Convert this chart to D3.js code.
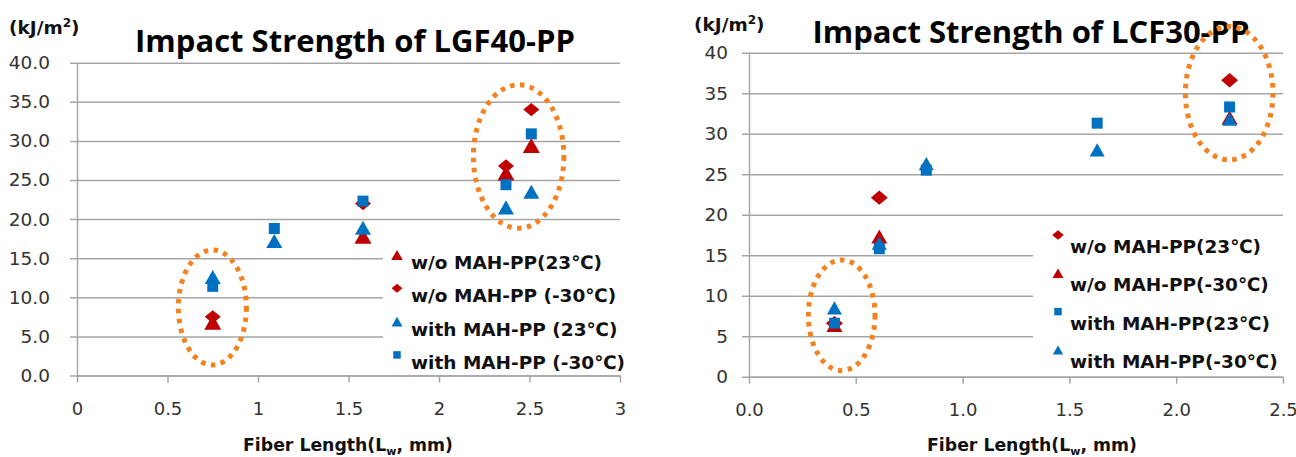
<!DOCTYPE html>
<html>
<head>
<meta charset="utf-8">
<script src="https://cdn.jsdelivr.net/npm/d3@7"></script>
<style>
    body { margin: 0; background: #fff; }
    svg { display: block; font-family: "DejaVu Sans", sans-serif; }
</style>
</head>
<body>
<svg id="chart" width="1296" height="457"></svg>
<script>
// ---- LGF40-PP (left) ----
var lgfXTicks = [0, 0.5, 1, 1.5, 2, 2.5, 3];
var lgfYTicks = [0, 5, 10, 15, 20, 25, 30, 35, 40];
var lgfNames = ["w/o MAH-PP(23\u2103)", "w/o MAH-PP (-30\u2103)", "with MAH-PP (23\u2103)", "with MAH-PP (-30\u2103)"];
var lgfWoX = [0.75, 1.58, 2.37, 2.51];
var lgfWo23 = [6.8, 17.8, 25.9, 29.4];
var lgfWoM30 = [7.5, 22.0, 26.8, 34.0];
var lgfWithX = [0.75, 1.09, 1.58, 2.37, 2.51];
var lgfWith23 = [12.6, 17.2, 18.9, 21.5, 23.5];
var lgfWithM30 = [11.4, 18.8, 22.3, 24.4, 30.9];
// highlight ellipses: [cx, cy, rx, ry] in data units
var lgfRings = [[0.748, 8.7, 0.188, 7.35], [2.44, 28.0, 0.25, 9.17]];

// ---- LCF30-PP (right) ----
var lcfXTicks = [0, 0.5, 1, 1.5, 2, 2.5];
var lcfYTicks = [0, 5, 10, 15, 20, 25, 30, 35, 40];
var lcfNames = ["w/o MAH-PP(23\u2103)", "w/o MAH-PP(-30\u2103)", "with MAH-PP(23\u2103)", "with MAH-PP(-30\u2103)"];
var lcfWoX = [0.40, 0.61, 2.25];
var lcfWo23 = [6.6, 22.1, 36.6];
var lcfWoM30 = [6.4, 17.3, 32.0];
var lcfWithX = [0.40, 0.61, 0.83, 1.63, 2.25];
var lcfWith23 = [6.6, 15.8, 25.5, 31.3, 33.3];
var lcfWithM30 = [8.5, 16.5, 26.3, 28.0, 31.8];
var lcfRings = [[0.434, 7.58, 0.156, 6.83], [2.248, 35.0, 0.205, 8.23]];

var RED = "#c00000", BLUE = "#0070c0", ORANGE = "#f5821f", GRID = "#a6a6a6";

// marker shapes, size = width in px
var triShape = { draw: function (c, s) { var h = s * 0.88; c.moveTo(0, -h / 2); c.lineTo(s / 2, h / 2); c.lineTo(-s / 2, h / 2); c.closePath(); } };
var diaShape = { draw: function (c, s) { var h = s * 0.42; c.moveTo(0, -h); c.lineTo(s / 2, 0); c.lineTo(0, h); c.lineTo(-s / 2, 0); c.closePath(); } };
var sqShape = { draw: function (c, s) { c.rect(-s / 2, -s / 2, s, s); } };

function zip(xs, ys) {
    return xs.map(function (d, i) { return [d, ys[i]]; });
}

function drawPanel(svg, p) {
    var x = d3.scaleLinear().domain([p.xTicks[0], p.xTicks[p.xTicks.length - 1]]).range([p.left, p.right]);
    var y = d3.scaleLinear().domain([0, 40]).range([p.bottom, p.top]);
    var g = svg.append("g");

    // y axis + gridlines
    var yAxis = g.append("g")
        .attr("transform", "translate(" + p.left + ",0)")
        .call(d3.axisLeft(y).tickValues(p.yTicks).tickSize(-(p.right - p.left)).tickSizeOuter(0)
            .tickPadding(p.yPad).tickFormat(d3.format(p.yFmt)));
    yAxis.select(".domain").style("stroke", GRID).style("stroke-width", 1.5);
    yAxis.selectAll(".tick line").attr("x1", -7).style("stroke", GRID).style("stroke-width", 1.5);
    yAxis.selectAll(".tick text").style("font-size", "18.5px").style("fill", "#333")
        .style("font-family", "'DejaVu Sans', sans-serif");

    // x axis
    var xAxis = g.append("g")
        .attr("transform", "translate(0," + p.bottom + ")")
        .call(d3.axisBottom(x).tickValues(p.xTicks).tickSize(7).tickSizeOuter(0)
            .tickPadding(20).tickFormat(d3.format(p.xFmt)));
    xAxis.select(".domain").style("stroke", GRID).style("stroke-width", 1.5);
    xAxis.selectAll(".tick line").style("stroke", GRID).style("stroke-width", 1.5);
    xAxis.selectAll(".tick text").style("font-size", "18px").style("fill", "#333")
        .style("font-family", "'DejaVu Sans', sans-serif");

    // legend box hides gridlines behind it
    g.append("rect")
        .attr("x", p.legend.x0).attr("y", p.legend.y0)
        .attr("width", p.right + 12 - p.legend.x0).attr("height", p.bottom - 4 - p.legend.y0)
        .attr("fill", "#fff");

    // markers
    p.series.forEach(function (s) {
        g.selectAll(null)
            .data(zip(s.x, s.y))
            .enter().append("path")
            .attr("transform", function (d) { return "translate(" + x(d[0]) + "," + y(d[1]) + ")"; })
            .attr("d", d3.symbol().type(s.shape).size(s.size))
            .attr("fill", s.color);
    });

    // legend entries
    var leg = g.selectAll(".leg")
        .data(p.series)
        .enter().append("g")
        .attr("transform", function (d, i) { return "translate(" + p.legend.mx + "," + (p.legend.y + i * p.legend.step) + ")"; });
    leg.append("path")
        .attr("d", function (d) { return d3.symbol().type(d.shape).size(d.size * 0.68)(); })
        .attr("fill", function (d) { return d.color; });
    leg.append("text")
        .attr("x", p.legend.tx).attr("y", p.legend.dy)
        .style("font-size", "18.5px").style("font-weight", "bold").style("fill", "#111")
        .text(function (d) { return d.name; });

    // titles
    g.append("text")
        .attr("x", p.titleX).attr("y", p.titleY)
        .attr("text-anchor", "middle")
        .style("font-family", "'Open Sans', sans-serif")
        .style("font-size", "31px").style("font-weight", "bold").style("fill", "#000")
        .text(p.title);
    var unit = g.append("text")
        .attr("x", p.unitX).attr("y", p.unitY)
        .style("font-size", "18.5px").style("font-weight", "bold").style("fill", "#111");
    unit.append("tspan").text("(kJ/m");
    unit.append("tspan").attr("dy", -7).style("font-size", "12px").text("2");
    unit.append("tspan").attr("dy", 7).text(")");
    var xt = g.append("text")
        .attr("x", p.xTitleX).attr("y", 451)
        .attr("text-anchor", "middle")
        .style("font-size", "17.3px").style("font-weight", "bold").style("fill", "#111");
    xt.append("tspan").text("Fiber Length(L");
    xt.append("tspan").attr("dy", 4).style("font-size", "11px").text("w");
    xt.append("tspan").attr("dy", -4).text(", mm)");

    // dotted highlight rings
    g.selectAll(".ring")
        .data(p.rings)
        .enter().append("ellipse")
        .attr("cx", function (d) { return x(d[0]); })
        .attr("cy", function (d) { return y(d[1]); })
        .attr("rx", function (d) { return x(d[0] + d[2]) - x(d[0]); })
        .attr("ry", function (d) { return y(d[1]) - y(d[1] + d[3]); })
        .attr("fill", "none")
        .attr("stroke", ORANGE)
        .attr("stroke-width", 5)
        .attr("stroke-dasharray", "4.5 5.5");
}

var svg = d3.select("#chart");

drawPanel(svg, {
    left: 77, right: 620, top: 62.7, bottom: 375.5,
    xTicks: lgfXTicks, yTicks: lgfYTicks, xFmt: "", yFmt: ".1f", yPad: 27,
    title: "Impact Strength of LGF40-PP", titleX: 355, titleY: 52,
    unitX: 9, unitY: 34, xTitleX: 348,
    legend: { x0: 383, y0: 232, mx: 397, y: 255, step: 33.3, tx: 14, dy: 14 },
    series: [
        { name: lgfNames[0], x: lgfWoX, y: lgfWo23, shape: triShape, size: 17, color: RED },
        { name: lgfNames[1], x: lgfWoX, y: lgfWoM30, shape: diaShape, size: 16, color: RED },
        { name: lgfNames[2], x: lgfWithX, y: lgfWith23, shape: triShape, size: 16, color: BLUE },
        { name: lgfNames[3], x: lgfWithX, y: lgfWithM30, shape: sqShape, size: 11, color: BLUE }
    ],
    rings: lgfRings
});

drawPanel(svg, {
    left: 749, right: 1283, top: 52.7, bottom: 376.7,
    xTicks: lcfXTicks, yTicks: lcfYTicks, xFmt: ".1f", yFmt: "", yPad: 21,
    title: "Impact Strength of LCF30-PP", titleX: 1031, titleY: 43,
    unitX: 694, unitY: 31, xTitleX: 1032,
    legend: { x0: 1033, y0: 224, mx: 1058, y: 235, step: 38.3, tx: 12, dy: 18 },
    series: [
        { name: lcfNames[0], x: lcfWoX, y: lcfWo23, shape: diaShape, size: 17, color: RED },
        { name: lcfNames[1], x: lcfWoX, y: lcfWoM30, shape: triShape, size: 16, color: RED },
        { name: lcfNames[2], x: lcfWithX, y: lcfWith23, shape: sqShape, size: 11, color: BLUE },
        { name: lcfNames[3], x: lcfWithX, y: lcfWithM30, shape: triShape, size: 15, color: BLUE }
    ],
    rings: lcfRings
});
</script>
</body>
</html>
